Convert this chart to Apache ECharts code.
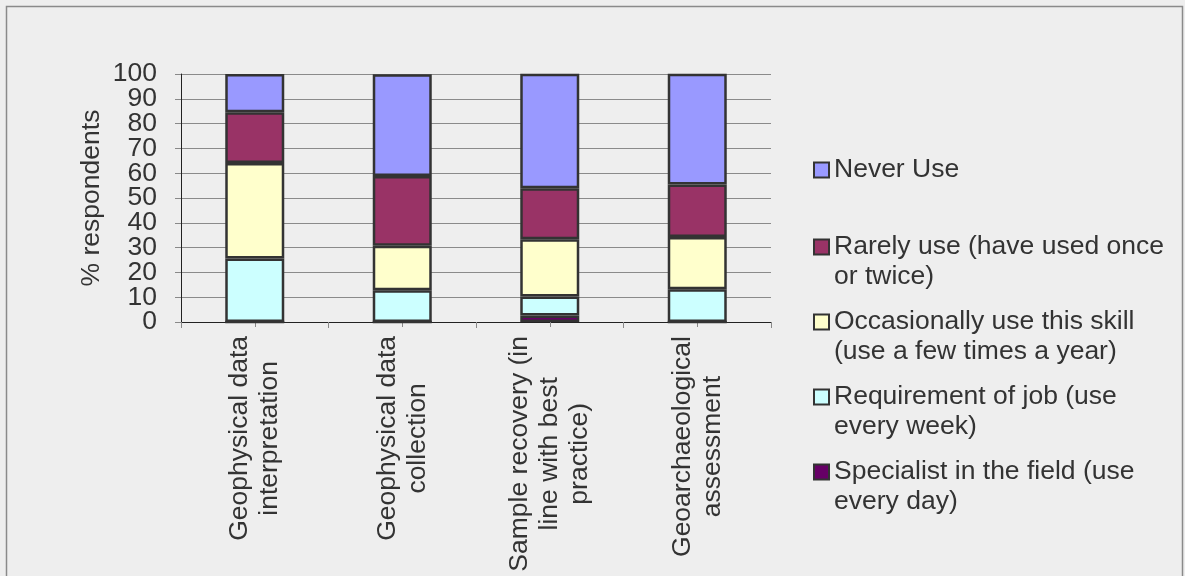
<!DOCTYPE html>
<html>
<head>
<meta charset="utf-8">
<script src="https://cdn.jsdelivr.net/npm/echarts@6/dist/echarts.min.js"></script>
<style>
  html, body { margin: 0; padding: 0; background: #eeeeee; }
  #chart { width: 1185px; height: 576px; }
</style>
</head>
<body>
<div id="chart"></div>
<script>
// Survey categories (x axis)
const categories = [
  'Geophysical data\ninterpretation',
  'Geophysical data\ncollection',
  'Sample recovery (in\nline with best\npractice)',
  'Geoarchaeological\nassessment'
];

// % respondents per usage level, stacked bottom to top
const specialist  = [0, 0, 2.6, 0];
const requirement = [25.6, 12.8, 7.7, 13.2];
const occasional  = [38.5, 17.9, 23.1, 21.1];
const rarely      = [20.5, 28.2, 20.5, 21.1];
const never       = [15.4, 41.0, 46.2, 44.7];

// y axis ticks, split into two label sets so the tall labels never collide
const yMin = 0, yMax = 100, yInterval = 10;
const yLabelsEven = [0, 20, 40, 60, 80, 100];
const yLabelsOdd  = [10, 30, 50, 70, 90];

const seriesNames = {
  specialist: 'Specialist in the field (use\nevery day)',
  requirement: 'Requirement of job (use\nevery week)',
  occasional: 'Occasionally use this skill\n(use a few times a year)',
  rarely: 'Rarely use (have used once\nor twice)',
  never: 'Never Use'
};

const FONT = '"Liberation Sans", Arial, sans-serif';
const FS = 26.5;
const TEXT = '#333333';

function barSeries(name, data, color) {
  return {
    name: name,
    type: 'bar',
    stack: 'usage',
    yAxisIndex: 0,
    data: data,
    barWidth: '40%',
    itemStyle: { color: color, borderColor: '#333333', borderWidth: 2.5 },
    emphasis: { disabled: true }
  };
}

// legend icon: square aligned with the first text line
const iconOneLine = 'path://M0,0 M15,15 M0,0H15V15H0Z';
const iconTwoLine = 'path://M0,0 M15,60 M0,7.5H15V22.5H0Z';

function legendItem(name, top, twoLine) {
  return {
    data: [{ name: name, icon: twoLine ? iconTwoLine : iconOneLine }],
    left: 813,
    top: top,
    orient: 'vertical',
    padding: 0,
    itemWidth: 15,
    itemHeight: twoLine ? 60 : 15,
    selectedMode: false,
    textStyle: { fontFamily: FONT, fontSize: FS, lineHeight: 30, color: TEXT }
  };
}

const yLabelStyle = { margin: 24, fontFamily: FONT, fontSize: FS, color: TEXT, hideOverlap: false };

const chart = echarts.init(document.getElementById('chart'));
chart.setOption({
  backgroundColor: '#eeeeee',
  animation: false,
  graphic: [{
    type: 'rect',
    shape: { x: 6.5, y: 6.5, width: 1176, height: 620 },
    style: { fill: 'none', stroke: '#8a8a8a', lineWidth: 1.5 },
    silent: true
  }],
  grid: { left: 181, right: 414, top: 74, bottom: 254 },
  legend: [
    legendItem(seriesNames.never, 155, false),
    legendItem(seriesNames.rarely, 231, true),
    legendItem(seriesNames.occasional, 306, true),
    legendItem(seriesNames.requirement, 381, true),
    legendItem(seriesNames.specialist, 456, true)
  ],
  xAxis: [{
    type: 'category',
    data: categories,
    axisLine: { lineStyle: { color: '#222222', width: 1 } },
    axisTick: { show: true, length: 6, lineStyle: { color: '#888888' } },
    axisLabel: {
      rotate: 90,
      margin: 14,
      interval: 0,
      hideOverlap: false,
      formatter: function (v) {
        return v.split('\n').map(function (l) { return '{c|' + l + '}'; }).join('\n');
      },
      rich: {
        c: { align: 'center', fontFamily: FONT, fontSize: FS, lineHeight: 30, color: TEXT }
      }
    },
    splitLine: { show: false }
  }, {
    type: 'category',
    data: categories,
    position: 'bottom',
    axisLine: { show: false },
    axisTick: { show: true, alignWithLabel: true, length: 5, lineStyle: { color: '#888888' } },
    axisLabel: { show: false },
    splitLine: { show: false }
  }],
  yAxis: [{
    type: 'value',
    min: yMin,
    max: yMax,
    interval: yInterval,
    position: 'left',
    name: '% respondents',
    nameLocation: 'middle',
    nameRotate: 90,
    nameGap: 76,
    nameTextStyle: { fontFamily: FONT, fontSize: FS, color: TEXT },
    axisLine: { show: true, lineStyle: { color: '#222222', width: 1 } },
    axisTick: { show: true, length: 6, lineStyle: { color: '#888888' } },
    axisLabel: Object.assign({ customValues: yLabelsEven }, yLabelStyle),
    splitLine: { show: true, lineStyle: { color: '#8a8a8a', width: 1 } }
  }, {
    type: 'value',
    min: yMin,
    max: yMax,
    interval: yInterval,
    position: 'left',
    axisLine: { show: false },
    axisTick: { show: false },
    axisLabel: Object.assign({ customValues: yLabelsOdd }, yLabelStyle),
    splitLine: { show: false }
  }],
  series: [
    barSeries(seriesNames.specialist, specialist, '#660066'),
    barSeries(seriesNames.requirement, requirement, '#ccffff'),
    barSeries(seriesNames.occasional, occasional, '#ffffcc'),
    barSeries(seriesNames.rarely, rarely, '#993366'),
    barSeries(seriesNames.never, never, '#9999ff')
  ]
});
</script>
</body>
</html>
